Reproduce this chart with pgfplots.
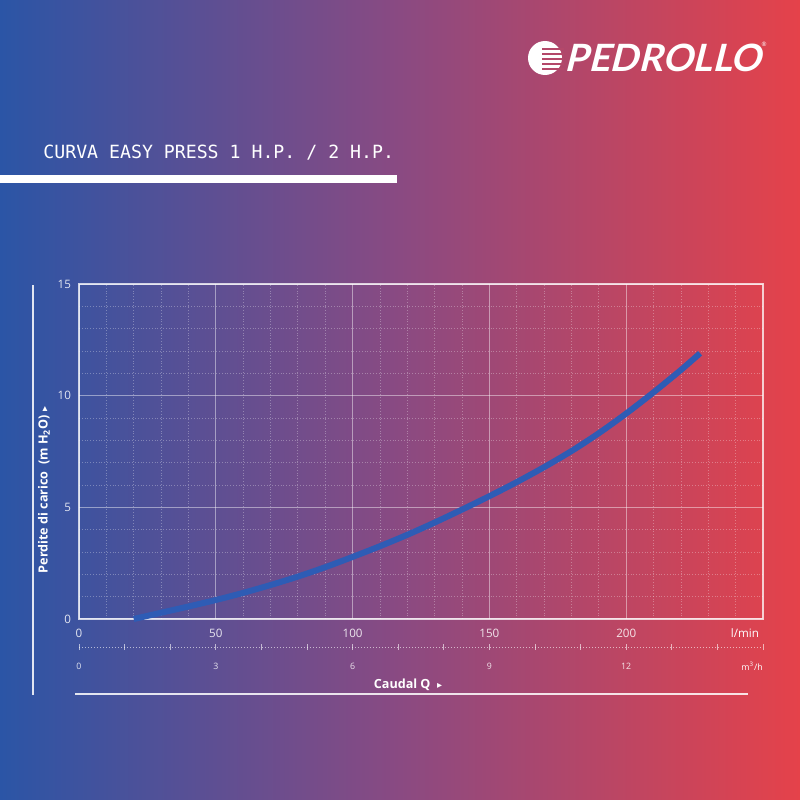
\documentclass[border=0pt]{standalone}
\usepackage{fontspec}
\setmainfont{Open Sans}
\newfontfamily\titlefont{DejaVu Sans Mono}
\newfontfamily\logofont{Lato}[FakeSlant=0.25]
\newfontfamily\symfont{DejaVu Sans}
\usepackage{pgfplots}
\pgfplotsset{compat=1.18}
\definecolor{cL}{HTML}{2B55A6}
\definecolor{cM}{HTML}{8A4A82}
\definecolor{cR}{HTML}{E5424A}
\definecolor{curve}{HTML}{2E5CB5}
\definecolor{logobg}{HTML}{B4486A}
\begin{document}
\begin{tikzpicture}[x=1pt,y=1pt]
\shade[left color=cL,right color=cR,middle color=cM] (0,0) rectangle (400,400);
\useasboundingbox (0,0) rectangle (400,400);
% title
\node[anchor=west,text=white,font=\titlefont\fontsize{9.1}{10}\selectfont,inner sep=0] at (21.5,323.5) {CURVA EASY PRESS 1 H.P. / 2 H.P.};
\fill[white] (0,308.5) rectangle (198.5,312.5);
% logo
\fill[white] (272.5,371) circle (8.5);
\foreach \d in {-5.5,-3,-0.5,2,4.5} {\draw[logobg,line width=0.7] (271,371+\d) -- (282,371+\d);}
\node[text=white,font=\logofont\bfseries\fontsize{18.8}{19}\selectfont,inner sep=0] at (331.5,371) {PEDROLLO};
\node[text=white,font=\fontsize{3}{3}\selectfont,inner sep=0] at (382,378) {\textregistered};
% main axis
\begin{axis}[at={(39.5pt,90.5pt)},anchor=south west,scale only axis,
  width=342pt,height=167.5pt,
  xmin=0,xmax=250,ymin=0,ymax=15,
  xtick={0,50,100,150,200}, ytick={0,5,10,15},
  minor xtick={10,20,30,40,60,70,80,90,110,120,130,140,160,170,180,190,210,220,230,240},
  minor ytick={1,2,3,4,6,7,8,9,11,12,13,14},
  grid=both,
  major grid style={white,opacity=0.45,line width=0.5pt},
  minor grid style={white,opacity=0.3,densely dotted,line width=0.4pt},
  axis line style={white,opacity=0.75,line width=0.6pt},
  major tick length=0pt, minor tick length=0pt,
  /pgf/number format/assume math mode=true,
  ticklabel style={font=\fontsize{5.8}{6}\selectfont,text=white,text opacity=0.85},
  xticklabel style={yshift=-1.5pt},
  yticklabel style={xshift=-0.5pt},
  clip=false,
]
\addplot[curve,line width=3pt,smooth] coordinates {
(20,0) (30,0.28) (40,0.56) (50,0.85) (60,1.17) (70,1.52) (80,1.9) (90,2.32)
(100,2.78) (110,3.26) (120,3.77) (130,4.32) (140,4.9) (150,5.5) (160,6.13)
(170,6.8) (180,7.52) (190,8.32) (200,9.2) (210,10.15) (220,11.15) (227,11.9)};
\end{axis}
% secondary scale
\begin{axis}[at={(39.5pt,76.5pt)},anchor=south west,scale only axis,
  width=342pt,height=10pt,
  xmin=0,xmax=15,ymin=0,ymax=1,
  axis y line=none, axis x line*=bottom,
  x axis line style={white,opacity=0.6,densely dotted,line width=0.5pt,-},
  xtick={0,...,15}, xticklabels={0,,,3,,,6,,,9,,,12,,,},
  major tick length=3pt, tick align=center,
  tick style={white,opacity=0.6,line width=0.4pt},
  /pgf/number format/assume math mode=true,
  ticklabel style={font=\fontsize{4.4}{5}\selectfont,text=white,text opacity=0.85},
  xticklabel style={yshift=-3pt},
]
\addplot[draw=none] coordinates {(0,0)};
\end{axis}
% unit labels
\node[text=white,font=\fontsize{5.8}{6}\selectfont] at (372.5,83.5) {l/min};
\node[text=white,font=\fontsize{4.4}{5}\selectfont] at (376,67) {m\textsuperscript{3}/h};
\node[text=white,font=\bfseries\fontsize{6.3}{7}\selectfont] at (204,57.5) {Caudal Q\ \ {\symfont\fontsize{5}{5}\selectfont ▸}};
\draw[white,opacity=0.85,line width=0.7pt] (37.5,53) -- (374,53);
\draw[white,opacity=0.85,line width=0.7pt] (16.5,52.5) -- (16.5,257.5);
\node[rotate=90,text=white,font=\bfseries\fontsize{6.3}{7}\selectfont] at (22,155) {Perdite di carico\ \ (m H\textsubscript{2}O) {\symfont\fontsize{5}{5}\selectfont ▸}};
\end{tikzpicture}
\end{document}
